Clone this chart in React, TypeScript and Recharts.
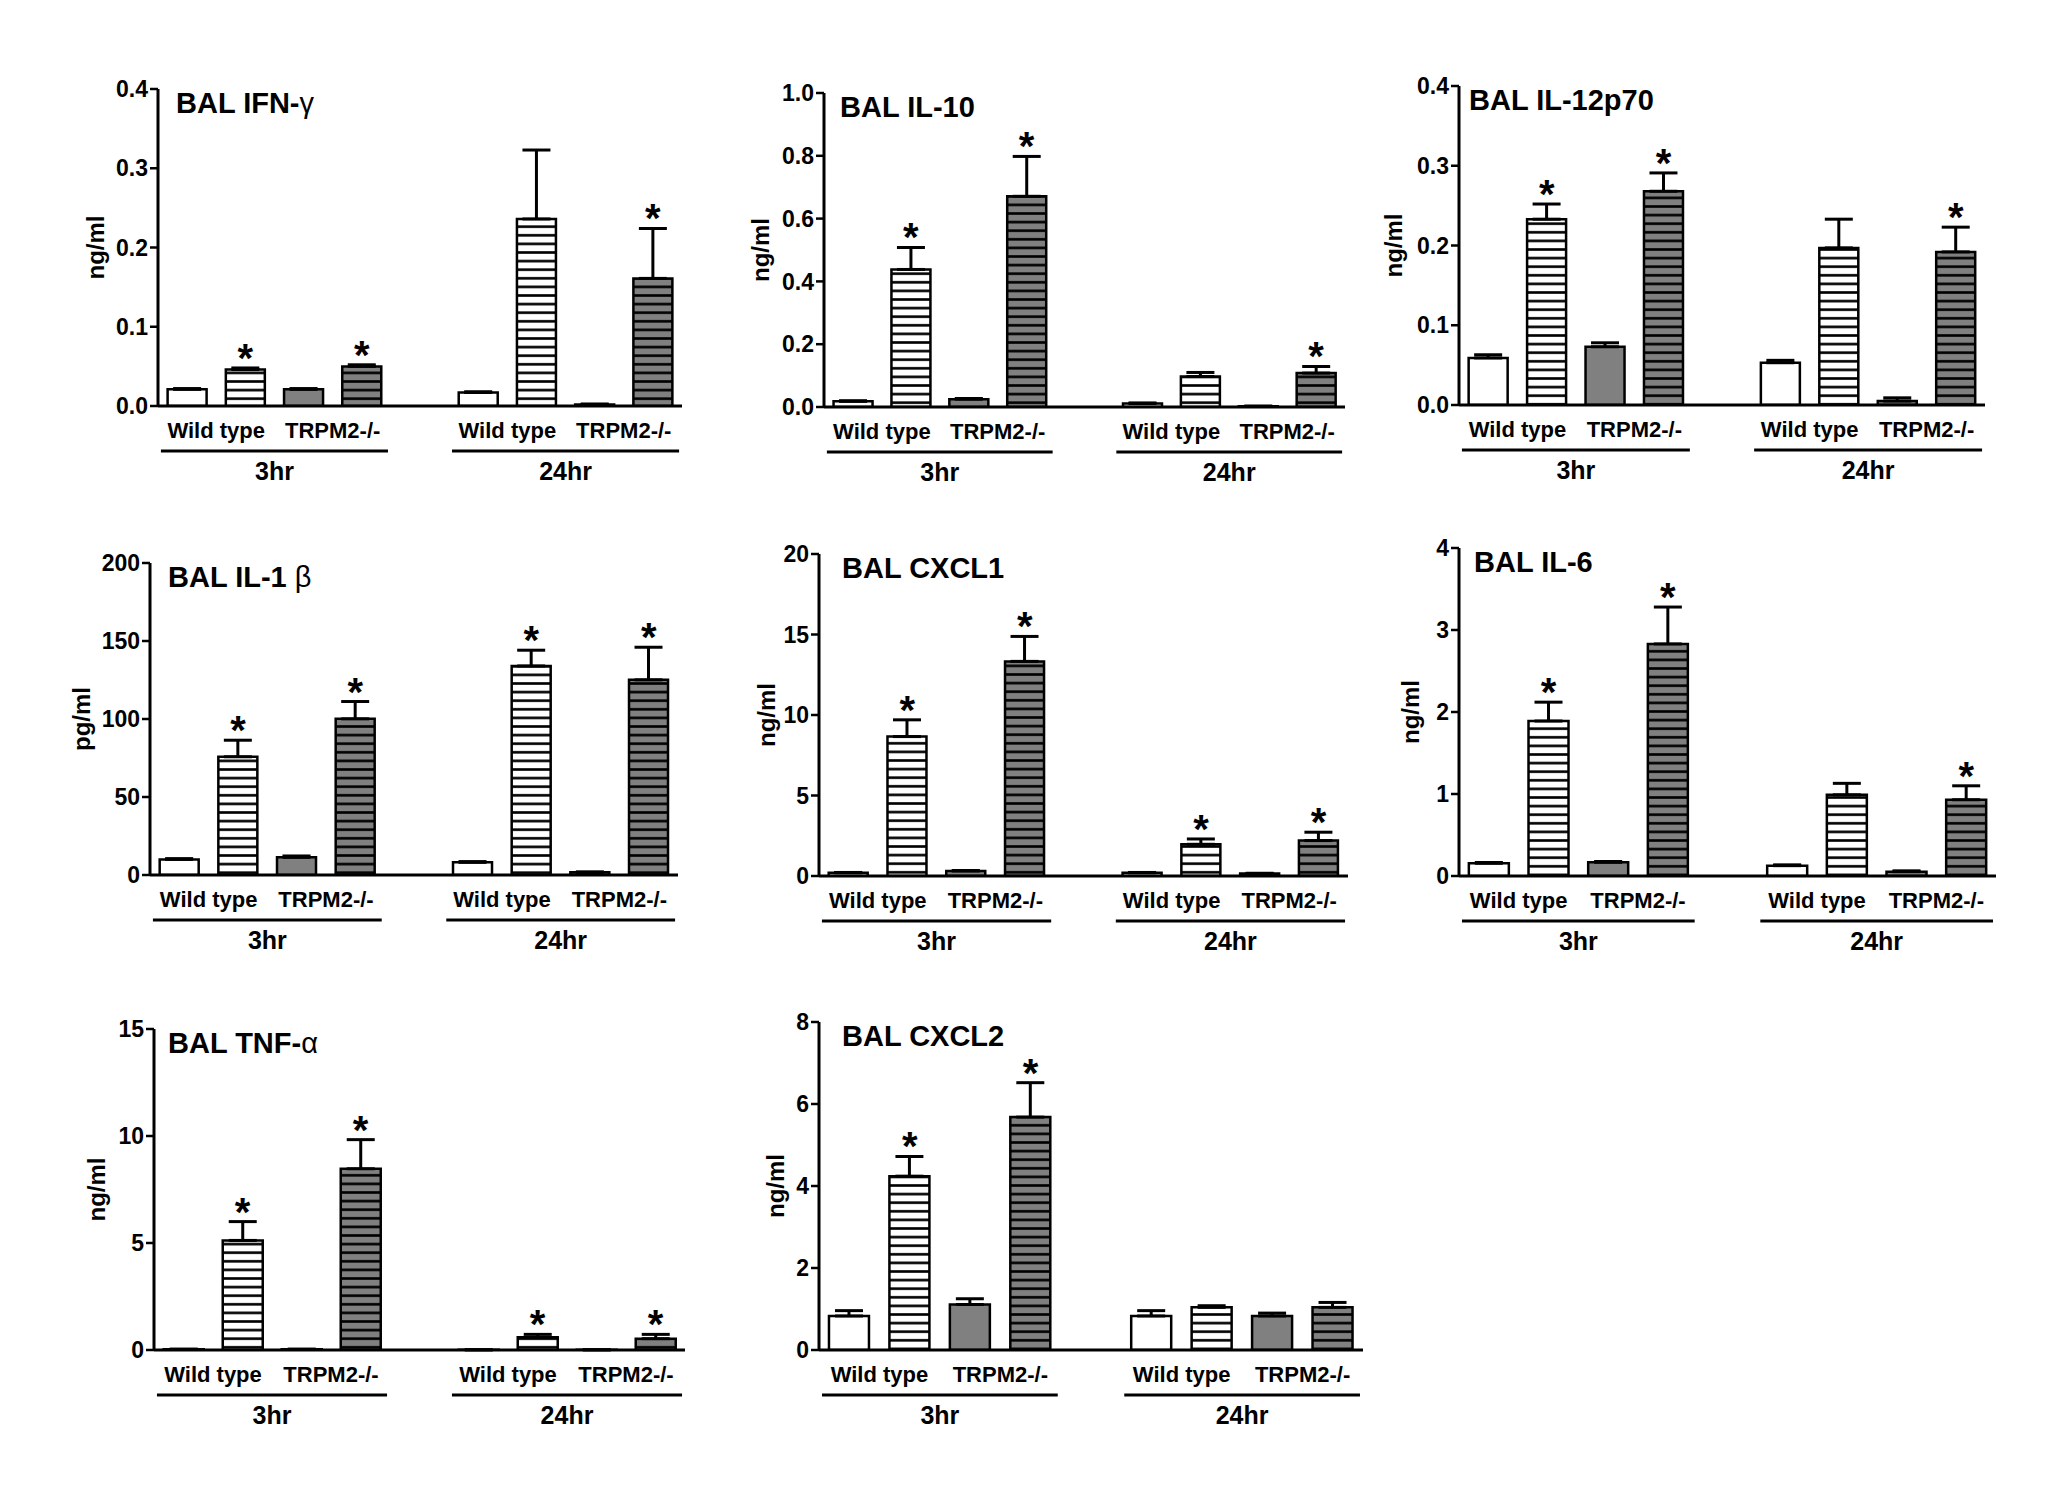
import React from 'react';
import { ComposedChart, Bar, Cell, ErrorBar, Scatter, XAxis, YAxis } from 'recharts';

// Nine slots per panel: 4 bars at 3hr, an empty gap, 4 bars at 24hr.
const SLOTS = ['wt3c', 'wt3l', 'ko3c', 'ko3l', 'gap', 'wt24c', 'wt24l', 'ko24c', 'ko24l'];
const SLOT_FILLS = ['plain', 'stripe', 'grey', 'greyStripe', '', 'plain', 'stripe', 'grey', 'greyStripe'];
const GENO_TICKS = [1, 3, 6, 8];
const GENO_LABELS = ['Wild type', 'TRPM2-/-', 'Wild type', 'TRPM2-/-'];
const TIME_TICKS = [2, 7];
const TIME_LABELS = ['3hr', '24hr'];

// values (mean, upper SEM, significance star)
const ifnMean = [0.021, 0.046, 0.021, 0.05, null, 0.017, 0.236, 0.002, 0.161];
const ifnSem = [0.001, 0.002, 0.001, 0.002, null, 0.001, 0.087, 0.0005, 0.063];
const ifnSig = [0, 1, 0, 1, 0, 0, 0, 0, 1];
const ifnTicks = [0, 0.1, 0.2, 0.3, 0.4];

const il10Mean = [0.018, 0.438, 0.025, 0.671, null, 0.011, 0.097, 0.002, 0.108];
const il10Sem = [0.002, 0.07, 0.002, 0.127, null, 0.002, 0.013, 0.001, 0.021];
const il10Sig = [0, 1, 0, 1, 0, 0, 0, 0, 1];
const il10Ticks = [0, 0.2, 0.4, 0.6, 0.8, 1.0];

const il12Mean = [0.059, 0.233, 0.073, 0.268, null, 0.053, 0.197, 0.005, 0.192];
const il12Sem = [0.004, 0.019, 0.005, 0.023, null, 0.003, 0.036, 0.004, 0.031];
const il12Sig = [0, 1, 0, 1, 0, 0, 0, 0, 1];
const il12Ticks = [0, 0.1, 0.2, 0.3, 0.4];

const il1bMean = [10.0, 75.8, 11.3, 100.1, null, 8.1, 134.0, 1.7, 125.1];
const il1bSem = [0.5, 10.6, 0.9, 11.1, null, 0.5, 10.1, 0.3, 20.9];
const il1bSig = [0, 1, 0, 1, 0, 0, 1, 0, 1];
const il1bTicks = [0, 50, 100, 150, 200];

const cxcl1Mean = [0.2, 8.66, 0.31, 13.33, null, 0.2, 1.97, 0.15, 2.2];
const cxcl1Sem = [0.02, 1.04, 0.03, 1.55, null, 0.02, 0.33, 0.02, 0.52];
const cxcl1Sig = [0, 1, 0, 1, 0, 0, 1, 0, 1];
const cxcl1Ticks = [0, 5, 10, 15, 20];

const il6Mean = [0.155, 1.89, 0.167, 2.83, null, 0.126, 0.99, 0.053, 0.93];
const il6Sem = [0.01, 0.23, 0.01, 0.45, null, 0.01, 0.14, 0.01, 0.17];
const il6Sig = [0, 1, 0, 1, 0, 0, 0, 0, 1];
const il6Ticks = [0, 1, 2, 3, 4];

const tnfMean = [0.03, 5.12, 0.03, 8.47, null, 0.01, 0.59, 0.01, 0.53];
const tnfSem = [0.01, 0.88, 0.01, 1.36, null, 0, 0.14, 0, 0.2];
const tnfSig = [0, 1, 0, 1, 0, 0, 1, 0, 1];
const tnfTicks = [0, 5, 10, 15];

const cxcl2Mean = [0.83, 4.24, 1.11, 5.68, null, 0.83, 1.04, 0.83, 1.04];
const cxcl2Sem = [0.13, 0.48, 0.14, 0.84, null, 0.13, 0.04, 0.07, 0.12];
const cxcl2Sig = [0, 1, 0, 1, 0, 0, 0, 0, 0];
const cxcl2Ticks = [0, 2, 4, 6, 8];

const FONT = '"Liberation Sans", Arial, Helvetica, sans-serif';
const LM = 115;
const TM = 30;
const RM = 60;
const BM = 100;

const PANELS = [
  { id: 'ifn', title: 'BAL IFN-', greek: 'γ', unit: 'ng/ml', mean: ifnMean, sem: ifnSem, sig: ifnSig, ticks: ifnTicks, digits: 1,
    left: 158, right: 682, top: 89, bottom: 406, labelDx: 63, titleDx: 18 },
  { id: 'il10', title: 'BAL IL-10', greek: '', unit: 'ng/ml', mean: il10Mean, sem: il10Sem, sig: il10Sig, ticks: il10Ticks, digits: 1,
    left: 824, right: 1345, top: 93, bottom: 407, labelDx: 64, titleDx: 16 },
  { id: 'il12', title: 'BAL IL-12p70', greek: '', unit: 'ng/ml', mean: il12Mean, sem: il12Sem, sig: il12Sig, ticks: il12Ticks, digits: 1,
    left: 1459, right: 1985, top: 86, bottom: 405, labelDx: 66, titleDx: 10 },
  { id: 'il1b', title: 'BAL IL-1 ', greek: 'β', unit: 'pg/ml', mean: il1bMean, sem: il1bSem, sig: il1bSig, ticks: il1bTicks, digits: 0,
    left: 150, right: 678, top: 563, bottom: 875, labelDx: 69, titleDx: 18 },
  { id: 'cxcl1', title: 'BAL CXCL1', greek: '', unit: 'ng/ml', mean: cxcl1Mean, sem: cxcl1Sem, sig: cxcl1Sig, ticks: cxcl1Ticks, digits: 0,
    left: 819, right: 1348, top: 554, bottom: 876, labelDx: 53, titleDx: 23 },
  { id: 'il6', title: 'BAL IL-6', greek: '', unit: 'ng/ml', mean: il6Mean, sem: il6Sem, sig: il6Sig, ticks: il6Ticks, digits: 0,
    left: 1459, right: 1996, top: 548, bottom: 876, labelDx: 49, titleDx: 15 },
  { id: 'tnf', title: 'BAL TNF-', greek: 'α', unit: 'ng/ml', mean: tnfMean, sem: tnfSem, sig: tnfSig, ticks: tnfTicks, digits: 0,
    left: 154, right: 685, top: 1029, bottom: 1350, labelDx: 58, titleDx: 14 },
  { id: 'cxcl2', title: 'BAL CXCL2', greek: '', unit: 'ng/ml', mean: cxcl2Mean, sem: cxcl2Sem, sig: cxcl2Sig, ticks: cxcl2Ticks, digits: 0,
    left: 819, right: 1363, top: 1022, bottom: 1350, labelDx: 44, titleDx: 23 },
];

const textStyle = { fontFamily: FONT, fontWeight: 700, fill: '#000' };

function BottomTick(props: any) {
  const { x, y, payload, slotW } = props;
  const v = payload && payload.value;
  const gi = GENO_TICKS.indexOf(v);
  if (gi >= 0) {
    return (
      <text x={x} y={y + 31} textAnchor="middle" fontSize={22} style={textStyle}>
        {GENO_LABELS[gi]}
      </text>
    );
  }
  const ti = TIME_TICKS.indexOf(v);
  if (ti >= 0) {
    return (
      <g>
        <line x1={x - 1.95 * slotW} x2={x + 1.95 * slotW} y1={y + 44} y2={y + 44} stroke="#000" strokeWidth={3} />
        <text x={x} y={y + 73} textAnchor="middle" fontSize={25} style={textStyle}>
          {TIME_LABELS[ti]}
        </text>
      </g>
    );
  }
  return <g />;
}

function Star(props: any) {
  const { cx, cy, payload } = props;
  if (!payload || payload.star == null || cy == null || isNaN(cy)) return <g />;
  return (
    <text x={cx} y={cy + 4} textAnchor="middle" fontSize={40} style={textStyle}>
      *
    </text>
  );
}

function Panel(p: any) {
  const plotW = p.right - p.left;
  const plotH = p.bottom - p.top;
  const slotW = plotW / SLOTS.length;
  const data = SLOTS.map((k, i) => ({
    k,
    pos: i + 0.5,
    v: p.mean[i],
    e: p.mean[i] == null ? null : [0, p.sem[i]],
    star: p.sig[i] ? p.mean[i] + p.sem[i] : null,
  }));
  const fillFor = (f: string) =>
    f === 'plain' ? '#fff' : f === 'grey' ? '#808080' : `url(#${p.id}-${f})`;

  return (
    <div style={{ position: 'absolute', left: p.left - LM, top: p.top - TM }}>
      <ComposedChart
        width={LM + plotW + RM}
        height={TM + plotH + BM}
        data={data}
        margin={{ top: TM, right: RM, left: 0, bottom: 0 }}
        barCategoryGap="16.5%"
      >
        <defs>
          <pattern id={`${p.id}-stripe`} width={8} height={8.6} patternUnits="userSpaceOnUse">
            <rect width={8} height={8.6} fill="#fff" />
            <rect y={3} width={8} height={2.6} fill="#000" />
          </pattern>
          <pattern id={`${p.id}-greyStripe`} width={8} height={8.6} patternUnits="userSpaceOnUse">
            <rect width={8} height={8.6} fill="#808080" />
            <rect y={3} width={8} height={2.6} fill="#000" />
          </pattern>
        </defs>
        <XAxis
          xAxisId="cat"
          dataKey="k"
          type="category"
          tick={false}
          tickLine={false}
          axisLine={{ stroke: '#000', strokeWidth: 3 }}
          height={1}
        />
        <XAxis
          xAxisId="lab"
          dataKey="pos"
          type="number"
          domain={[0, SLOTS.length]}
          ticks={[1, 2, 3, 6, 7, 8]}
          interval={0}
          allowDataOverflow
          axisLine={false}
          tickLine={false}
          tickSize={0}
          tickMargin={0}
          height={BM - 1}
          tick={(t: any) => <BottomTick {...t} slotW={slotW} />}
        />
        <YAxis
          width={LM}
          domain={[0, p.ticks[p.ticks.length - 1]]}
          ticks={p.ticks}
          interval={0}
          allowDataOverflow
          tickFormatter={(v: number) => v.toFixed(p.digits)}
          tick={{ fontSize: 23, fontFamily: FONT, fontWeight: 700, fill: '#000' }}
          tickSize={8}
          tickMargin={2}
          tickLine={{ stroke: '#000', strokeWidth: 2.5 }}
          axisLine={{ stroke: '#000', strokeWidth: 3 }}
          label={{
            value: p.unit,
            angle: -90,
            position: 'insideLeft',
            offset: LM - p.labelDx,
            style: { textAnchor: 'middle', fontSize: 24, fontFamily: FONT, fontWeight: 700, fill: '#000' },
          }}
        />
        <Bar xAxisId="cat" dataKey="v" stroke="#000" strokeWidth={2.5} isAnimationActive={false}>
          {data.map((d, i) => (
            <Cell key={d.k} fill={fillFor(SLOT_FILLS[i])} />
          ))}
          <ErrorBar dataKey="e" width={14} strokeWidth={3} stroke="#000" direction="y" />
        </Bar>
        <Scatter xAxisId="cat" dataKey="star" shape={Star} isAnimationActive={false} />
      </ComposedChart>
      <div
        style={{
          position: 'absolute',
          left: LM + p.titleDx,
          top: TM,
          fontFamily: FONT,
          fontSize: 29,
          lineHeight: '29px',
          fontWeight: 700,
          whiteSpace: 'nowrap',
          color: '#000',
        }}
      >
        {p.title}
        <span style={{ fontWeight: 400 }}>{p.greek}</span>
      </div>
    </div>
  );
}

export default function App() {
  return (
    <div style={{ position: 'absolute', left: 0, top: 0, width: 2060, height: 1498, background: '#fff' }}>
      {PANELS.map((p) => (
        <Panel key={p.id} {...p} />
      ))}
    </div>
  );
}
